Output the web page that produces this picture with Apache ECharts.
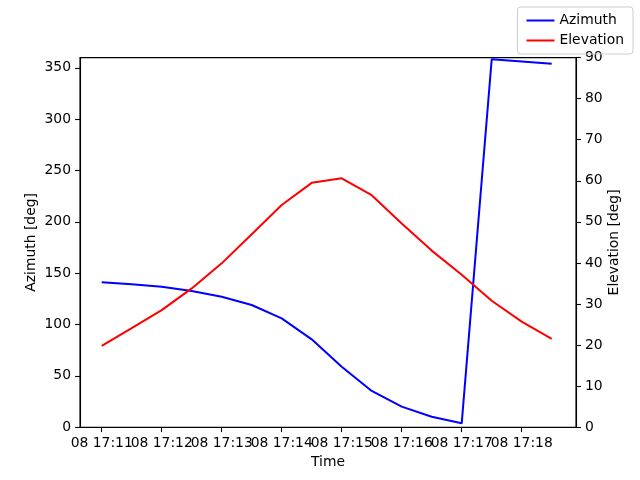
<!DOCTYPE html>
<html>
<head>
<meta charset="utf-8">
<script src="https://cdn.jsdelivr.net/npm/echarts@6/dist/echarts.min.js"></script>
<style>html,body{margin:0;padding:0;background:#fff}#c{width:640px;height:480px}</style>
</head>
<body>
<div id="c"></div>
<script>
const times = ['17:11:00','17:11:30','17:12:00','17:12:30','17:13:00','17:13:30','17:14:00','17:14:30',
               '17:15:00','17:15:30','17:16:00','17:16:30','17:17:00','17:17:30','17:18:00','17:18:30'];
const azimuth = [141.1,139.2,136.9,132.7,127.1,119.0,106.0,85.6,58.9,35.3,20.0,10.2,3.8,358.3,356.2,353.9];
const elevation = [19.8,24.1,28.5,33.8,39.9,47.0,54.1,59.5,60.6,56.5,49.6,43.0,37.1,30.8,25.7,21.5];
const xTickTimes = ['17:11','17:12','17:13','17:14','17:15','17:16','17:17','17:18'];
const xTickLabels = ['08 17:11','08 17:12','08 17:13','08 17:14','08 17:15','08 17:16','08 17:17','08 17:18'];
const leftTicks = [0,50,100,150,200,250,300,350];
const rightTicks = [0,10,20,30,40,50,60,70,80,90];

function toSec(t){const p=t.split(':').map(Number);return (p[0]-17)*3600+p[1]*60+(p[2]||0);}
const xs = times.map(toSec);
const xTickVals = xTickTimes.map(toSec);
const labelMap = {};
xTickVals.forEach((v,i)=>{labelMap[v]=xTickLabels[i];});
const evenTicks = xTickVals.filter((v,i)=>i%2===0);
const oddTicks = xTickVals.filter((v,i)=>i%2===1);

const font = 'DejaVu Sans';
const fs = 13.9;
const lineIcon = 'path://M0,0L28,0L28,2L0,2Z';
const xMin = toSec('17:11:00')-21.7, xMax = toSec('17:18:30')+24.3;
function mkX(ticks, withName){
  return {
    type:'value',min:xMin,max:xMax,position:'bottom',offset:0,
    name:withName?'Time':'',nameLocation:'middle',nameGap:28,nameMoveOverlap:false,
    nameTextStyle:{fontFamily:font,fontSize:fs,color:'#000'},
    axisLine:{show:true,lineStyle:{color:'#000',width:1.1}},
    axisTick:{show:true,inside:false,length:4.9,lineStyle:{color:'#000',width:1.1},customValues:ticks},
    axisLabel:{show:true,margin:9,fontFamily:font,fontSize:fs,color:'#000',customValues:ticks,
      showMinLabel:true,showMaxLabel:true,hideOverlap:false,
      formatter:v=>labelMap[v]||''},
    splitLine:{show:false}
  };
}
const chart = echarts.init(document.getElementById('c'), null, {renderer:'canvas'});
chart.setOption({
  animation:false,
  backgroundColor:'#fff',
  textStyle:{fontFamily:font},
  grid:{left:80,right:64,top:57.6,bottom:52.8,show:true,borderColor:'#000',borderWidth:1.1,containLabel:false},
  legend:{
    right:7,top:7,orient:'vertical',
    itemWidth:28,itemHeight:2,itemGap:5,
    padding:[6,9,6,9],
    borderColor:'#cccccc',borderWidth:1,borderRadius:3,
    textStyle:{fontFamily:font,fontSize:fs,color:'#000',lineHeight:15},
    data:[{name:'Azimuth',icon:lineIcon},{name:'Elevation',icon:lineIcon}]
  },
  xAxis:[mkX(evenTicks,true), mkX(oddTicks,false)],
  yAxis:[{
    type:'value',min:0,max:360,position:'left',
    name:'Azimuth [deg]',nameLocation:'middle',nameGap:42,nameRotate:90,nameMoveOverlap:false,
    nameTextStyle:{fontFamily:font,fontSize:fs,color:'#000'},
    axisLine:{show:true,lineStyle:{color:'#000',width:1.1}},
    axisTick:{show:true,length:4.9,lineStyle:{color:'#000',width:1.1},customValues:leftTicks},
    axisLabel:{margin:9,fontFamily:font,fontSize:fs,color:'#000',customValues:leftTicks},
    splitLine:{show:false}
  },{
    type:'value',min:0,max:90,position:'right',
    name:'Elevation [deg]',nameLocation:'middle',nameGap:31,nameRotate:90,nameMoveOverlap:false,
    nameTextStyle:{fontFamily:font,fontSize:fs,color:'#000'},
    axisLine:{show:true,lineStyle:{color:'#000',width:1.1}},
    axisTick:{show:true,length:4.9,lineStyle:{color:'#000',width:1.1},customValues:rightTicks},
    axisLabel:{margin:9,fontFamily:font,fontSize:fs,color:'#000',customValues:rightTicks},
    splitLine:{show:false}
  }],
  series:[{
    name:'Azimuth',type:'line',xAxisIndex:0,yAxisIndex:0,symbol:'none',
    lineStyle:{color:'#0000ff',width:2},itemStyle:{color:'#0000ff'},
    data:xs.map((x,i)=>[x,azimuth[i]])
  },{
    name:'Elevation',type:'line',xAxisIndex:0,yAxisIndex:1,symbol:'none',
    lineStyle:{color:'#ff0000',width:2},itemStyle:{color:'#ff0000'},
    data:xs.map((x,i)=>[x,elevation[i]])
  }]
});
</script>
</body>
</html>
